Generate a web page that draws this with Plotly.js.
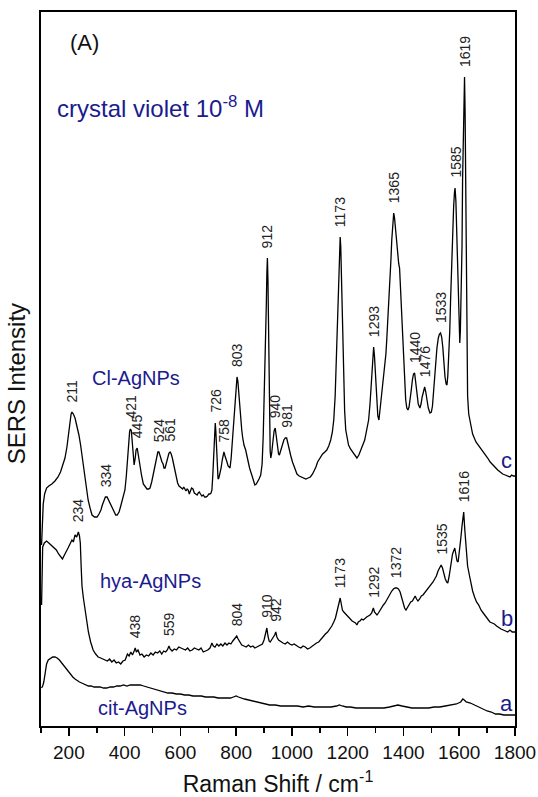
<!DOCTYPE html>
<html>
<head>
<meta charset="utf-8">
<script src="https://cdn.plot.ly/plotly-3.0.1.min.js"></script>
<style>html,body{margin:0;padding:0;background:#fff;}#chart{width:538px;height:797px;}</style>
</head>
<body>
<div id="chart"></div>
<script>
// Raman shift (cm-1) and SERS intensity (arbitrary units, offset-stacked as in the figure)
const cShift = [102,105,108,113,120,128,139,150,161,170,179,186,193,199,204,208,211,216,222,229,236,242,247,252,258,264,269,276,283,292,301,308,315,320,326,331,337,342,347,354,362,368,373,380,387,394,401,406,410,414,418,421,424,427,431,434,438,441,445,449,455,461,467,473,480,486,491,497,501,505,510,515,519,523,527,531,534,538,541,545,549,554,559,563,567,571,575,580,585,590,595,599,604,608,612,616,620,624,628,632,636,640,645,650,655,660,664,668,672,677,682,687,692,697,702,706,710,713,716,719,722,725,727,730,733,735,738,742,746,750,753,756,760,763,767,771,775,778,782,786,789,793,797,800,803,806,810,813,816,820,823,828,834,841,848,856,862,867,872,877,882,888,893,897,900,904,908,910,912,914,916,918,920,922,924,927,932,936,940,944,948,952,955,960,966,971,976,981,986,991,996,1002,1010,1018,1026,1034,1042,1050,1058,1066,1074,1080,1086,1092,1098,1104,1110,1118,1125,1132,1139,1145,1150,1155,1160,1164,1168,1171,1173,1175,1178,1181,1185,1189,1193,1198,1203,1210,1218,1226,1233,1240,1246,1254,1261,1268,1275,1280,1284,1287,1290,1293,1296,1300,1304,1308,1312,1316,1322,1328,1333,1337,1340,1344,1348,1351,1355,1358,1362,1365,1368,1372,1376,1379,1383,1386,1390,1394,1398,1401,1405,1408,1412,1416,1420,1424,1428,1432,1436,1440,1444,1448,1453,1459,1463,1467,1471,1476,1480,1484,1489,1495,1500,1504,1508,1512,1516,1520,1525,1529,1533,1537,1541,1545,1549,1553,1556,1559,1562,1566,1569,1573,1576,1580,1583,1585,1588,1591,1594,1596,1599,1602,1604,1607,1610,1612,1615,1617,1619,1621,1623,1625,1627,1630,1634,1640,1648,1660,1673,1684,1692,1702,1711,1720,1729,1738,1747,1756,1765,1774,1782,1788,1794,1800];
const cInt = [181,205,222,232,238,240,242,245,249,254,261,268,279,292,306,312,314,312,308,300,291,281,271,258,246,235,226,218,211,209,209,212,216,221,226,229,229,226,223,218,213,211,211,214,221,228,236,250,265,285,295,297,295,285,270,261,268,276,278,270,261,250,242,239,237,237,238,244,250,256,264,270,274,274,270,266,264,262,258,258,262,268,273,274,272,268,263,255,248,243,240,239,238,237,239,236,235,237,236,232,235,238,237,233,232,231,233,234,232,230,231,229,229,230,232,232,233,236,250,270,295,303,295,270,252,247,248,252,258,266,272,274,270,266,264,260,258,258,268,285,295,312,332,343,349,345,330,315,306,296,289,281,276,266,258,251,245,241,242,244,247,251,262,290,320,365,420,452,468,445,395,340,300,275,268,272,285,295,298,290,278,272,271,276,282,286,288,288,282,275,270,264,258,252,250,249,248,247,248,249,252,255,259,264,267,270,272,274,276,280,286,294,306,330,373,410,455,482,489,480,446,395,346,315,296,287,281,277,274,271,268,271,276,281,286,295,306,322,340,360,374,379,370,351,325,310,306,316,331,345,359,372,386,405,428,443,466,486,505,513,508,496,480,468,462,458,435,406,378,356,335,326,318,316,319,326,336,346,352,353,343,331,322,318,322,329,335,339,334,326,318,313,314,320,335,351,365,378,388,392,393,389,379,362,349,342,341,350,366,395,426,465,496,520,534,538,525,491,455,426,400,383,395,426,480,546,595,632,649,615,526,455,380,330,312,302,292,284,279,276,272,268,264,261,258,256,254,252,251,250,249,251,250,250];

const bShift = [102,104,106,112,120,128,136,146,155,163,170,177,184,190,197,204,211,216,222,228,234,238,241,244,247,252,258,264,270,278,287,296,305,314,322,330,338,346,354,362,370,378,386,394,402,410,416,422,428,434,438,442,448,455,462,470,478,486,494,502,510,518,526,533,540,547,553,559,563,570,578,586,594,602,610,618,626,634,642,650,658,666,674,682,690,698,706,713,718,724,731,738,745,752,760,767,774,781,788,795,802,807,813,820,828,836,844,852,860,867,874,881,888,894,900,905,910,914,918,922,927,933,938,942,946,952,960,968,976,984,992,1000,1008,1016,1024,1032,1040,1048,1056,1064,1072,1080,1088,1096,1104,1112,1120,1128,1136,1143,1150,1156,1162,1168,1173,1177,1181,1186,1192,1198,1204,1210,1216,1222,1228,1233,1238,1244,1250,1256,1262,1268,1274,1280,1286,1292,1296,1300,1305,1310,1316,1322,1328,1334,1340,1346,1352,1358,1364,1370,1376,1382,1388,1393,1398,1404,1409,1414,1420,1426,1432,1438,1442,1447,1452,1458,1464,1470,1476,1482,1488,1494,1500,1506,1512,1518,1524,1530,1535,1540,1545,1550,1555,1559,1564,1570,1576,1584,1588,1592,1596,1600,1605,1610,1616,1620,1624,1630,1637,1642,1648,1655,1662,1670,1678,1686,1694,1702,1710,1718,1726,1734,1742,1750,1758,1766,1774,1782,1790,1800];
const bInt = [121,160,179,183,185,183,181,179,176,172,169,167,171,175,178,182,186,184,191,189,194,190,183,160,140,128,116,104,94,84,76,72,69,68,67,66,65,67,64,66,63,64,62,65,66,72,70,74,71,75,78,74,76,71,72,69,71,70,73,71,74,73,75,72,75,74,76,80,77,75,77,76,79,78,77,76,78,75,76,78,77,76,78,74,75,76,78,83,80,79,82,80,82,80,83,81,83,82,85,88,90,87,84,81,80,79,81,79,80,78,79,80,81,82,86,92,98,90,85,84,86,88,91,94,89,86,84,83,82,84,82,81,82,80,79,78,80,79,77,78,80,81,83,84,87,89,92,94,97,100,104,108,115,123,128,122,116,114,112,110,109,106,105,104,103,101,104,105,107,106,108,109,110,111,113,118,114,112,111,113,116,118,121,123,126,130,133,135,137,138,138,137,134,128,122,118,116,118,121,124,125,128,130,127,125,127,130,131,133,135,137,139,141,144,147,150,155,158,161,158,152,147,144,143,150,162,172,178,170,165,164,172,186,200,214,196,180,160,150,142,135,129,124,121,116,113,110,107,104,103,102,100,98,97,96,95,94,96,94,94];

const aShift = [102,106,110,115,120,126,134,142,150,158,166,174,182,190,198,206,214,222,230,238,246,254,262,270,280,290,300,312,324,336,348,360,372,384,396,408,420,432,444,456,468,480,492,504,516,528,540,555,570,585,600,615,630,645,660,675,690,705,720,735,750,765,780,790,800,808,816,830,845,860,875,890,905,920,940,960,980,1000,1020,1040,1060,1080,1100,1120,1140,1160,1170,1180,1195,1210,1230,1250,1270,1290,1310,1330,1350,1365,1380,1395,1410,1430,1450,1470,1490,1510,1530,1550,1570,1590,1605,1613,1618,1625,1640,1655,1670,1685,1700,1715,1730,1745,1760,1775,1790,1800];
const aInt = [38,40,44,55,62,66,68,69,69,68,66,63,60,57,54,51,49,47,45,44,43,42,41,40,40,39,39,39,38,38,39,39,40,40,41,40,41,41,41,41,40,39,38,37,36,35,34,33,33,32,32,31,31,30,30,30,29,29,29,28,28,28,28,29,30,29,28,27,26,25,24,23,22,21,21,20,20,20,20,19,20,19,19,19,19,20,21,20,19,19,18,18,18,18,18,18,19,20,21,20,19,18,18,18,18,19,19,20,21,22,24,27,26,24,23,21,19,17,15,14,12,12,11,11,11,11];

const cLabels = ['211','334','421','445','524','561','726','758','803','912','940','981','1173','1293','1365','1440','1476','1533','1585','1619'];
const bLabels = ['234','438','559','804','910','942','1173','1292','1372','1535','1616'];

const sampleNames = ['cit-AgNPs','hya-AgNPs','Cl-AgNPs'];
const traceLetters = ['a','b','c'];

const navy = '#1b1b8f';
const FONT = 'Liberation Sans, Arial, Helvetica, sans-serif';

function peakNear(xs, ys, x0) {
  let m = -Infinity;
  for (let i = 0; i < xs.length; i++) if (Math.abs(xs[i] - x0) <= 5) m = Math.max(m, ys[i]);
  return m;
}

const lineStyle = {color: '#000', width: 1.3};
const traces = [
  {x: aShift, y: aInt, type: 'scatter', mode: 'lines', line: lineStyle, name: 'a'},
  {x: bShift, y: bInt, type: 'scatter', mode: 'lines', line: lineStyle, name: 'b'},
  {x: cShift, y: cInt, type: 'scatter', mode: 'lines', line: lineStyle, name: 'c'}
];

const annotations = [];
function addPeakLabels(labels, xs, ys) {
  labels.forEach(t => {
    const x = parseFloat(t);
    annotations.push({
      x: x, y: peakNear(xs, ys, x) + 9, xref: 'x', yref: 'y',
      text: t, showarrow: false, textangle: -90,
      xanchor: 'center', yanchor: 'bottom', borderpad: 0,
      font: {family: FONT, size: 14, color: '#222'}
    });
  });
}
addPeakLabels(cLabels, cShift, cInt);
addPeakLabels(bLabels, bShift, bInt);

// panel & sample text
annotations.push({xref: 'paper', yref: 'paper', x: 0.058, y: 0.957, xanchor: 'left', yanchor: 'middle',
  text: '(A)', showarrow: false, font: {family: FONT, size: 22, color: '#111'}});
annotations.push({xref: 'paper', yref: 'paper', x: 0.03, y: 0.867, xanchor: 'left', yanchor: 'middle',
  text: 'crystal violet 10<sup>-8</sup> M', showarrow: false, font: {family: FONT, size: 24, color: navy}});
const namePos = [[0.117, 0.025], [0.12, 0.203], [0.103, 0.487]];
sampleNames.forEach((s, i) => annotations.push({xref: 'paper', yref: 'paper', x: namePos[i][0], y: namePos[i][1],
  xanchor: 'left', yanchor: 'middle', text: s, showarrow: false, font: {family: FONT, size: 20, color: navy}}));
const letterY = [0.032, 0.150, 0.372];
traceLetters.forEach((s, i) => annotations.push({xref: 'paper', yref: 'paper', x: 0.983, y: letterY[i],
  xanchor: 'center', yanchor: 'middle', text: s, showarrow: false, font: {family: FONT, size: 22, color: navy}}));

// y-axis title (placed slightly below the axis centre, as in the figure)
annotations.push({xref: 'paper', yref: 'paper', x: -0.05, y: 0.479, xanchor: 'center', yanchor: 'middle',
  text: 'SERS Intensity', textangle: -90, showarrow: false, font: {family: FONT, size: 24, color: '#111'}});

const layout = {
  width: 538, height: 797,
  margin: {l: 41, r: 23, t: 12, b: 71, pad: 0},
  paper_bgcolor: '#fff', plot_bgcolor: '#fff',
  showlegend: false,
  font: {family: FONT, color: '#111'},
  xaxis: {
    range: [100, 1800], tickmode: 'linear', tick0: 200, dtick: 200,
    ticks: 'outside', ticklen: 8, tickwidth: 1.5, tickcolor: '#000',
    showline: true, linewidth: 2, linecolor: '#000', mirror: true,
    showgrid: false, zeroline: false,
    tickfont: {family: FONT, size: 19, color: '#111'},
    minor: {tick0: 100, dtick: 100, ticks: 'outside', ticklen: 5, tickwidth: 1.5, tickcolor: '#000', showgrid: false},
    title: {text: 'Raman Shift / cm<sup>-1</sup>', font: {family: FONT, size: 23, color: '#111'}, standoff: 21}
  },
  yaxis: {
    range: [0, 714], showticklabels: false, ticks: '',
    showline: true, linewidth: 2, linecolor: '#000', mirror: true,
    showgrid: false, zeroline: false
  },
  annotations: annotations
};

Plotly.newPlot('chart', traces, layout, {displayModeBar: false, staticPlot: true});
</script>
</body>
</html>
